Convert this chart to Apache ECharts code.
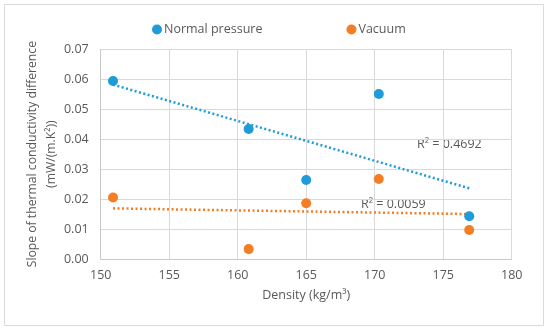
<!DOCTYPE html>
<html><head><meta charset="utf-8">
<script src="https://cdn.jsdelivr.net/npm/echarts@6/dist/echarts.min.js"></script>
<style>html,body{margin:0;padding:0;background:#fff}#c{width:550px;height:332px}</style>
</head><body><div id="c"></div>
<script>
const normalX = [150.9, 160.8, 165.0, 170.3, 176.9];
const normalY = [0.0594, 0.0434, 0.0264, 0.0551, 0.0143];
const vacuumX = [150.9, 160.8, 165.0, 170.3, 176.9];
const vacuumY = [0.0205, 0.0033, 0.0186, 0.0267, 0.0097];
const normalTrendX = [150.9, 176.9];
const normalTrendY = [0.0582, 0.0236];
const vacuumTrendX = [150.9, 176.9];
const vacuumTrendY = [0.0169, 0.0150];
const xTicks = [150, 155, 160, 165, 170, 175, 180];
const yTicks = [0, 0.01, 0.02, 0.03, 0.04, 0.05, 0.06, 0.07];

const pairs = (xs, ys) => xs.map((x, i) => [x, ys[i]]);
const blue = '#1f9bd9', orange = '#f57e24', txt = '#595959';
const font = 'Open Sans';
const chart = echarts.init(document.getElementById('c'));
chart.setOption({
  backgroundColor: '#fff',
  animation: false,
  textStyle: {fontFamily: font},
  grid: {left: 100.7, right: 38.3, top: 49.3, bottom: 73},
  legend: {
    left: 147, top: 18, itemGap: 84, itemWidth: 10, itemHeight: 10,
    data: [{name: 'Normal pressure', icon: 'circle'}, {name: 'Vacuum', icon: 'circle'}],
    textStyle: {color: txt, fontSize: 12.5, fontFamily: font, padding: [0, 0, 0, -3]}
  },
  xAxis: {
    type: 'value', min: 150, max: 180, interval: 5,
    name: 'Density (kg/m³)', nameLocation: 'middle', nameGap: 30, nameMoveOverlap: false,
    nameTextStyle: {color: txt, fontSize: 12.5, fontFamily: font},
    axisLine: {show: true, lineStyle: {color: '#c8c8c8'}},
    axisTick: {show: false},
    axisLabel: {color: txt, fontSize: 12.5, margin: 10, fontFamily: font},
    splitLine: {show: true, lineStyle: {color: '#d9d9d9'}}
  },
  yAxis: {
    type: 'value', min: 0, max: 0.07, interval: 0.01,
    name: 'Slope of thermal conductivity difference\n(mW/(m.K²))', nameLocation: 'middle', nameGap: 40, nameMoveOverlap: false,
    nameTextStyle: {color: txt, fontSize: 12.2, fontFamily: font, lineHeight: 19},
    axisLine: {show: true, lineStyle: {color: '#c8c8c8'}},
    axisTick: {show: false},
    axisLabel: {color: txt, fontSize: 12.5, margin: 12, fontFamily: font, formatter: v => v.toFixed(2)},
    splitLine: {show: true, lineStyle: {color: '#d9d9d9'}}
  },
  series: [
    {name: 'Normal pressure trend', type: 'line', data: pairs(normalTrendX, normalTrendY), symbol: 'none',
     lineStyle: {color: blue, width: 2.5, type: [2, 2.5]}, z: 1},
    {name: 'Vacuum trend', type: 'line', data: pairs(vacuumTrendX, vacuumTrendY), symbol: 'none',
     lineStyle: {color: orange, width: 2.5, type: [2, 2.5]}, z: 1},
    {name: 'Normal pressure', type: 'scatter', data: pairs(normalX, normalY), symbolSize: 10,
     itemStyle: {color: blue, opacity: 1}, z: 3},
    {name: 'Vacuum', type: 'scatter', data: pairs(vacuumX, vacuumY), symbolSize: 10,
     itemStyle: {color: orange, opacity: 1}, z: 3}
  ],
  graphic: [
    {type: 'rect', shape: {x: 4.5, y: 4.5, width: 539, height: 321}, style: {fill: 'none', stroke: '#d9d9d9', lineWidth: 1}, silent: true, z: -1},
    {type: 'text', left: 417, top: 138, style: {text: 'R² = 0.4692', fill: txt, fontSize: 12.5, fontFamily: font}},
    {type: 'text', left: 361, top: 198, style: {text: 'R² = 0.0059', fill: txt, fontSize: 12.5, fontFamily: font}}
  ]
});
</script></body></html>
